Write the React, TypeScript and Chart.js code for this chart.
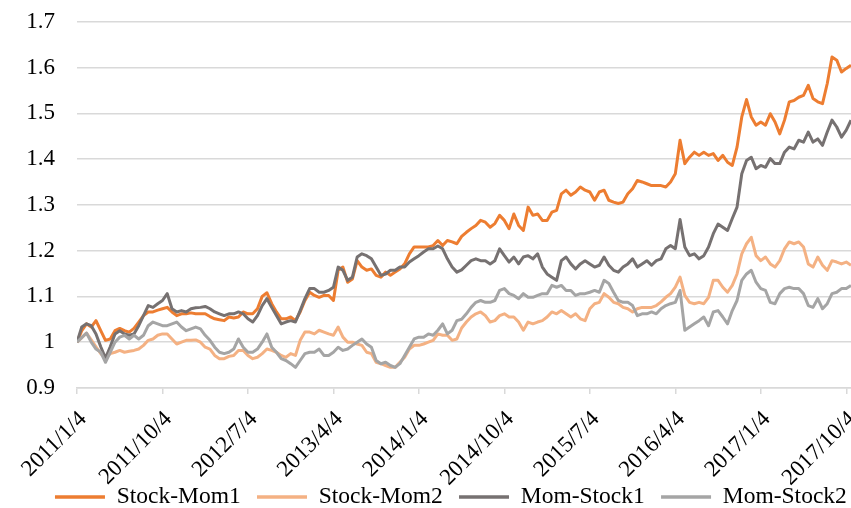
import React, { useEffect, useRef } from 'react';
import { Chart, registerables } from 'chart.js';

Chart.register(...registerables);

// ---- data (one sample every half month from 2011/1/4) ----
const SAMPLE_STEP_MONTHS = 0.5;
const X_MAX_MONTHS = 81.5;

const tickMonths = [0, 9, 18, 27, 36, 45, 54, 63, 72, 81];
const tickLabels = [
  '2011/1/4', '2011/10/4', '2012/7/4', '2013/4/4', '2014/1/4',
  '2014/10/4', '2015/7/4', '2016/4/4', '2017/1/4', '2017/10/4',
];

const seriesNames = ['Stock-Mom1', 'Stock-Mom2', 'Mom-Stock1', 'Mom-Stock2'];
const seriesColors = ['#ED7D31', '#F4B183', '#767171', '#A5A5A5'];

const stockMom1 = [
  1.0, 1.025, 1.04, 1.033, 1.047, 1.025, 1.004, 1.007, 1.025, 1.03,
  1.025, 1.022, 1.03, 1.044, 1.058, 1.066, 1.066, 1.07, 1.073, 1.076,
  1.066, 1.058, 1.062, 1.062, 1.064, 1.062, 1.062, 1.062, 1.056, 1.051,
  1.049, 1.047, 1.055, 1.053, 1.055, 1.066, 1.062, 1.062, 1.073, 1.1,
  1.108, 1.084, 1.066, 1.051, 1.051, 1.055, 1.047, 1.066, 1.091, 1.109,
  1.102, 1.098, 1.102, 1.102, 1.091, 1.157, 1.164, 1.131, 1.138, 1.178,
  1.164, 1.157, 1.16, 1.146, 1.142, 1.153, 1.146, 1.153, 1.16, 1.171,
  1.193, 1.208, 1.208, 1.208, 1.208, 1.211, 1.222, 1.211, 1.222, 1.219,
  1.215, 1.231, 1.24, 1.248, 1.255, 1.266, 1.262, 1.251, 1.259, 1.277,
  1.266, 1.248, 1.28, 1.255, 1.244, 1.295, 1.277, 1.28, 1.266, 1.266,
  1.284, 1.288, 1.324, 1.332, 1.321, 1.328, 1.339, 1.332, 1.328, 1.31,
  1.328, 1.332, 1.31, 1.306, 1.303, 1.306, 1.324, 1.335, 1.353, 1.35,
  1.346, 1.342, 1.342, 1.342, 1.339, 1.35, 1.368, 1.441, 1.39, 1.404,
  1.415, 1.408, 1.415, 1.408, 1.412, 1.397, 1.408, 1.393, 1.386, 1.426,
  1.492, 1.53, 1.492, 1.474, 1.481, 1.474, 1.499, 1.481, 1.455, 1.485,
  1.525, 1.528, 1.535, 1.539, 1.561, 1.532, 1.525, 1.521, 1.565, 1.623,
  1.616, 1.59, 1.598, 1.605,
];

const stockMom2 = [
  1.0, 1.01, 1.02, 1.005, 0.99, 0.975, 0.965, 0.975, 0.978, 0.982,
  0.978, 0.98, 0.982, 0.985, 0.993, 1.004, 1.007, 1.015, 1.018, 1.018,
  1.007, 0.996, 1.0, 1.004, 1.004, 1.005, 1.0, 0.989, 0.985, 0.971,
  0.964, 0.964, 0.969, 0.971, 0.982, 0.982, 0.971, 0.964, 0.967, 0.975,
  0.985, 0.982, 0.978, 0.971, 0.967, 0.975, 0.971, 1.004, 1.022, 1.022,
  1.018, 1.026, 1.022, 1.018, 1.015, 1.033, 1.011, 1.0, 1.0, 0.996,
  0.993, 0.978, 0.975, 0.956, 0.953, 0.949, 0.945, 0.945, 0.956, 0.967,
  0.985, 0.993, 0.993, 0.996, 1.0, 1.004, 1.018, 1.015, 1.015, 1.004,
  1.007, 1.031, 1.044, 1.055, 1.062, 1.066, 1.058, 1.044, 1.047, 1.058,
  1.062, 1.055, 1.055, 1.044, 1.026, 1.044, 1.04, 1.044, 1.047, 1.055,
  1.066, 1.062, 1.069, 1.062, 1.055, 1.062, 1.051, 1.047, 1.073, 1.084,
  1.087, 1.106, 1.098, 1.087, 1.084, 1.076, 1.073, 1.066, 1.073, 1.076,
  1.076, 1.076, 1.08, 1.088, 1.098, 1.106, 1.12, 1.142, 1.102, 1.087,
  1.084, 1.087, 1.084, 1.098, 1.135, 1.135, 1.12, 1.109, 1.124, 1.149,
  1.193, 1.215, 1.229, 1.189, 1.178, 1.186, 1.171, 1.164, 1.178, 1.204,
  1.219, 1.215, 1.219, 1.208, 1.171, 1.164, 1.186, 1.168, 1.157, 1.178,
  1.175, 1.171, 1.175, 1.168,
];

const momStock1 = [
  1.0, 1.033, 1.04, 1.036, 1.018, 0.99, 0.965, 0.99, 1.018, 1.025,
  1.018, 1.015, 1.018, 1.036, 1.058, 1.08, 1.076, 1.084, 1.091, 1.106,
  1.073, 1.066, 1.069, 1.066, 1.073, 1.075, 1.076, 1.078, 1.073, 1.066,
  1.062, 1.058, 1.062, 1.062, 1.066, 1.062, 1.051, 1.044, 1.058, 1.08,
  1.095, 1.076, 1.058, 1.04, 1.044, 1.047, 1.044, 1.069, 1.095, 1.117,
  1.117, 1.109, 1.109, 1.113, 1.12, 1.164, 1.157, 1.135, 1.142, 1.186,
  1.193, 1.189, 1.182, 1.164, 1.146, 1.149, 1.157, 1.157, 1.164, 1.164,
  1.175, 1.182, 1.189, 1.197, 1.204, 1.204, 1.21, 1.204, 1.182, 1.164,
  1.153, 1.158, 1.168, 1.178, 1.182, 1.178, 1.178, 1.171, 1.178, 1.204,
  1.189, 1.175, 1.186, 1.171, 1.186, 1.189, 1.182, 1.193, 1.164, 1.149,
  1.142, 1.135, 1.178, 1.186, 1.171, 1.16, 1.171, 1.178, 1.171, 1.164,
  1.168, 1.186, 1.168, 1.157, 1.153, 1.164, 1.171, 1.182, 1.164, 1.171,
  1.178, 1.168, 1.178, 1.182, 1.204, 1.211, 1.204, 1.268, 1.208, 1.189,
  1.193, 1.182, 1.189, 1.208, 1.237, 1.258, 1.251, 1.244, 1.27, 1.295,
  1.368, 1.397, 1.404, 1.379, 1.386, 1.382, 1.401, 1.39, 1.39, 1.415,
  1.426, 1.422, 1.441, 1.437, 1.459, 1.437, 1.444, 1.43, 1.459, 1.485,
  1.47, 1.448, 1.463, 1.485,
];

const momStock2 = [
  1.0, 1.01, 1.02, 1.0, 0.985, 0.978, 0.956, 0.978, 1.0, 1.011,
  1.015, 1.007, 1.015, 1.007, 1.015, 1.036, 1.044, 1.04, 1.036, 1.036,
  1.04, 1.044, 1.033, 1.025, 1.029, 1.033, 1.029, 1.015, 1.004, 0.989,
  0.978, 0.975, 0.978, 0.985, 1.007, 0.989, 0.978, 0.978, 0.985, 1.0,
  1.018, 0.989, 0.978, 0.964, 0.96, 0.953, 0.945, 0.96, 0.975, 0.978,
  0.978, 0.985, 0.971, 0.971, 0.978, 0.989, 0.982, 0.985, 0.993, 1.0,
  1.007, 0.996, 0.989, 0.96, 0.953, 0.956, 0.949, 0.945, 0.953, 0.971,
  0.989, 1.007, 1.011, 1.011, 1.018, 1.015, 1.026, 1.04, 1.018, 1.026,
  1.047, 1.05, 1.062, 1.076, 1.087, 1.091, 1.087, 1.087, 1.091, 1.113,
  1.117, 1.106, 1.102, 1.095, 1.106, 1.098, 1.098, 1.102, 1.106, 1.106,
  1.124, 1.12, 1.124, 1.113, 1.113, 1.102, 1.106, 1.106, 1.109, 1.113,
  1.109, 1.135, 1.128, 1.109, 1.091, 1.087, 1.087, 1.08, 1.058, 1.062,
  1.062, 1.066, 1.062, 1.073, 1.08, 1.084, 1.087, 1.113, 1.026, 1.033,
  1.04, 1.047, 1.055, 1.036, 1.066, 1.069, 1.055, 1.04, 1.069, 1.091,
  1.135, 1.149, 1.157, 1.131, 1.117, 1.113, 1.087, 1.084, 1.106, 1.117,
  1.12, 1.117, 1.117, 1.106, 1.08, 1.076, 1.095, 1.073, 1.084, 1.106,
  1.109, 1.117, 1.117, 1.124,
];

const seriesValues = [stockMom1, stockMom2, momStock1, momStock2];

const FONT = "'Liberation Serif', 'Times New Roman', serif";

export default function App() {
  const canvasRef = useRef<HTMLCanvasElement>(null);

  useEffect(() => {
    document.body.style.margin = '0';
    const canvas = canvasRef.current;
    if (!canvas) return;

    const layoutTweak = {
      id: 'layoutTweak',
      afterLayout(chart: any) {
        const l = chart.legend;
        if (l) {
          l.left += 25.4;
          l.right += 25.4;
          l.top += 10.75;
          l.bottom += 10.75;
        }
        const xs = chart.scales.x;
        if (xs) xs.bottom = chart.height;
      },
    };

    const datasets = seriesValues.map((vals, si) => ({
      label: seriesNames[si],
      data: vals.map((y, i) => ({ x: i * SAMPLE_STEP_MONTHS, y })),
      borderColor: seriesColors[si],
      backgroundColor: seriesColors[si],
      borderWidth: 3,
      borderJoinStyle: 'round' as const,
      pointRadius: 0,
      pointHoverRadius: 0,
      tension: 0,
      order: seriesValues.length - si,
    }));

    const chart = new Chart(canvas, {
      type: 'line',
      data: { datasets },
      options: {
        animation: false,
        responsive: false,
        devicePixelRatio: 1,
        events: [],
        layout: { padding: { top: 21.7, left: 0, right: 0, bottom: 0 } },
        plugins: {
          tooltip: { enabled: false },
          legend: {
            position: 'bottom',
            labels: {
              usePointStyle: true,
              pointStyle: 'line',
              pointStyleWidth: 50,
              padding: 16.25,
              color: '#000',
              font: { family: FONT, size: 23.5 },
              sort: (a: any, b: any) => a.datasetIndex - b.datasetIndex,
              generateLabels: (c: any) =>
                (Chart as any).defaults.plugins.legend.labels
                  .generateLabels(c)
                  .map((it: any) => ({ ...it, lineWidth: 3.3 })),
            },
          },
        },
        scales: {
          x: {
            type: 'linear',
            min: 0,
            max: X_MAX_MONTHS,
            afterBuildTicks: (s: any) => {
              s.ticks = tickMonths.map((v) => ({ value: v }));
            },
            afterFit: (s: any) => {
              s.height = 70.3;
              s.paddingLeft = 0;
              s.paddingRight = 0;
            },
            ticks: {
              autoSkip: false,
              minRotation: 45,
              maxRotation: 45,
              padding: 12,
              labelOffset: 6,
              color: '#000',
              font: { family: FONT, size: 23 },
              callback: (v: any) => {
                const k = tickMonths.indexOf(Number(v));
                return k >= 0 ? tickLabels[k] : null;
              },
            },
            grid: {
              drawOnChartArea: false,
              drawTicks: true,
              tickLength: 6,
              color: '#D9D9D9',
              lineWidth: 1.5,
            },
            border: { display: true, color: '#D9D9D9', width: 1.5 },
          },
          y: {
            type: 'linear',
            min: 0.9,
            max: 1.7,
            afterFit: (s: any) => {
              s.width = 77;
              s.paddingTop = 0;
              s.paddingBottom = 0;
            },
            ticks: {
              stepSize: 0.1,
              padding: 22,
              color: '#000',
              font: { family: FONT, size: 23 },
              callback: (v: any) => String(Math.round(Number(v) * 10) / 10),
            },
            grid: { color: '#D9D9D9', lineWidth: 1.5, drawTicks: false },
            border: { display: false },
          },
        },
      },
      plugins: [layoutTweak],
    });

    return () => chart.destroy();
  }, []);

  return (
    <div style={{ width: 851, height: 508 }}>
      <canvas ref={canvasRef} width={851} height={508} style={{ display: 'block' }} />
    </div>
  );
}
